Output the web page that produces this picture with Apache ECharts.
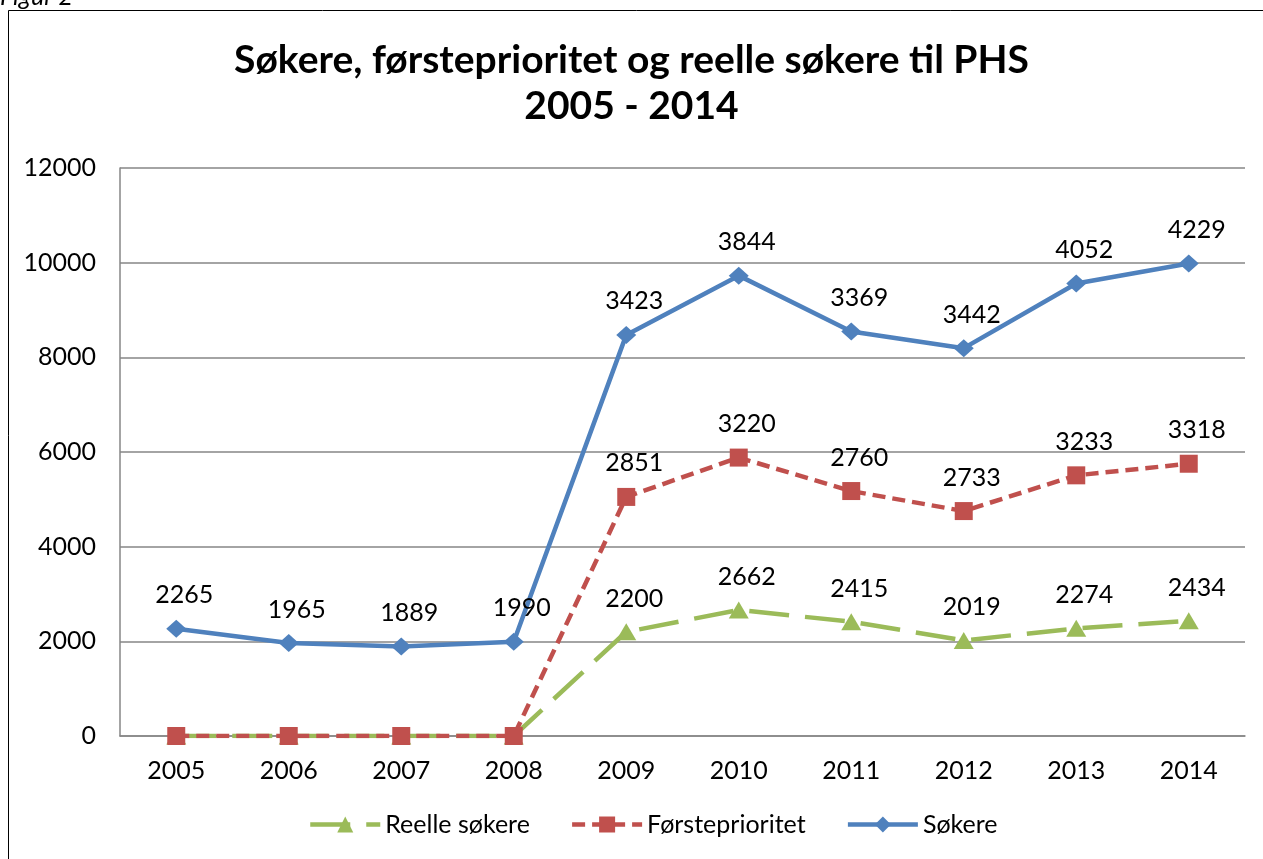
<!DOCTYPE html>
<html>
<head>
<meta charset="utf-8">
<script src="https://cdn.jsdelivr.net/npm/echarts@6/dist/echarts.min.js"></script>
<style>
  html, body { margin: 0; padding: 0; background: #fff; }
  #chart { width: 1263px; height: 859px; }
</style>
</head>
<body>
<div id="chart"></div>
<script>
// data (Excel stacked line: labels show own values)
var years = ['2005', '2006', '2007', '2008', '2009', '2010', '2011', '2012', '2013', '2014'];
var reelle = [0, 0, 0, 0, 2200, 2662, 2415, 2019, 2274, 2434];
var forste = [0, 0, 0, 0, 2851, 3220, 2760, 2733, 3233, 3318];
var sokere = [2265, 1965, 1889, 1990, 3423, 3844, 3369, 3442, 4052, 4229];

var FONT = 'Lato, "Open Sans", sans-serif';

var myChart = echarts.init(document.getElementById('chart'));

function lbl() {
    return {
        show: true,
        position: 'top',
        distance: 12,
        offset: [8, 0],
        color: '#000',
        fontFamily: FONT,
        fontSize: 25,
        formatter: function (p) { return p.value === 0 ? '' : p.value; }
    };
}

var option = {
    backgroundColor: '#fff',
    animation: false,
    title: {
        text: 'Søkere, førsteprioritet og reelle søkere til PHS\n2005 - 2014',
        left: 'center',
        top: 32,
        textStyle: {
            fontFamily: FONT,
            fontWeight: 'bold',
            fontSize: 39,
            lineHeight: 46,
            color: '#000'
        }
    },
    graphic: [
        {
            type: 'rect',
            shape: { x: 8.5, y: 10.5, width: 1300, height: 900 },
            style: { fill: 'none', stroke: '#000', lineWidth: 1 },
            silent: true
        },
        {
            type: 'text',
            left: 0,
            top: -16,
            style: {
                text: 'Figur 2',
                font: 'italic 25px ' + FONT,
                fill: '#000'
            }
        }
    ],
    legend: {
        bottom: 17,
        left: 303,
        itemWidth: 70,
        itemHeight: 20,
        itemGap: 40,
        textStyle: { fontFamily: FONT, fontSize: 25, color: '#000' },
        data: [
            { name: 'Reelle søkere', lineStyle: { width: 4.5 } },
            { name: 'Førsteprioritet', lineStyle: { width: 4.5 } },
            { name: 'Søkere', lineStyle: { width: 4.5 } }
        ]
    },
    grid: {
        left: 120,
        right: 18,
        top: 168,
        bottom: 123
    },
    xAxis: {
        type: 'category',
        data: years,
        boundaryGap: true,
        axisLine: { lineStyle: { color: '#868686', width: 1.5 } },
        axisTick: { show: false },
        axisLabel: { color: '#000', fontFamily: FONT, fontSize: 25, margin: 22 }
    },
    yAxis: {
        type: 'value',
        min: 0,
        max: 12000,
        interval: 2000,
        axisLine: { show: true, lineStyle: { color: '#868686', width: 1.5 } },
        axisTick: { show: false },
        splitLine: { lineStyle: { color: '#868686', width: 1.5 } },
        axisLabel: {
            color: '#000', fontFamily: FONT, fontSize: 25, margin: 24,
            formatter: function (v) { return String(v); }
        }
    },
    series: [
        {
            name: 'Reelle søkere',
            type: 'line',
            stack: 'total',
            data: reelle,
            symbol: 'triangle',
            symbolSize: [20, 17],
            itemStyle: { color: '#9BBB59' },
            lineStyle: { color: '#9BBB59', width: 4.5, type: [40, 16] },
            label: lbl(),
            z: 2
        },
        {
            name: 'Førsteprioritet',
            type: 'line',
            stack: 'total',
            data: forste,
            symbol: 'rect',
            symbolSize: 18,
            itemStyle: { color: '#C0504D' },
            lineStyle: { color: '#C0504D', width: 4.5, type: [13, 7] },
            label: lbl(),
            z: 3
        },
        {
            name: 'Søkere',
            type: 'line',
            stack: 'total',
            data: sokere,
            symbol: 'diamond',
            symbolSize: [20, 18],
            itemStyle: { color: '#4F81BD' },
            lineStyle: { color: '#4F81BD', width: 4.5 },
            label: lbl(),
            z: 4
        }
    ]
};

myChart.setOption(option);
</script>
</body>
</html>
